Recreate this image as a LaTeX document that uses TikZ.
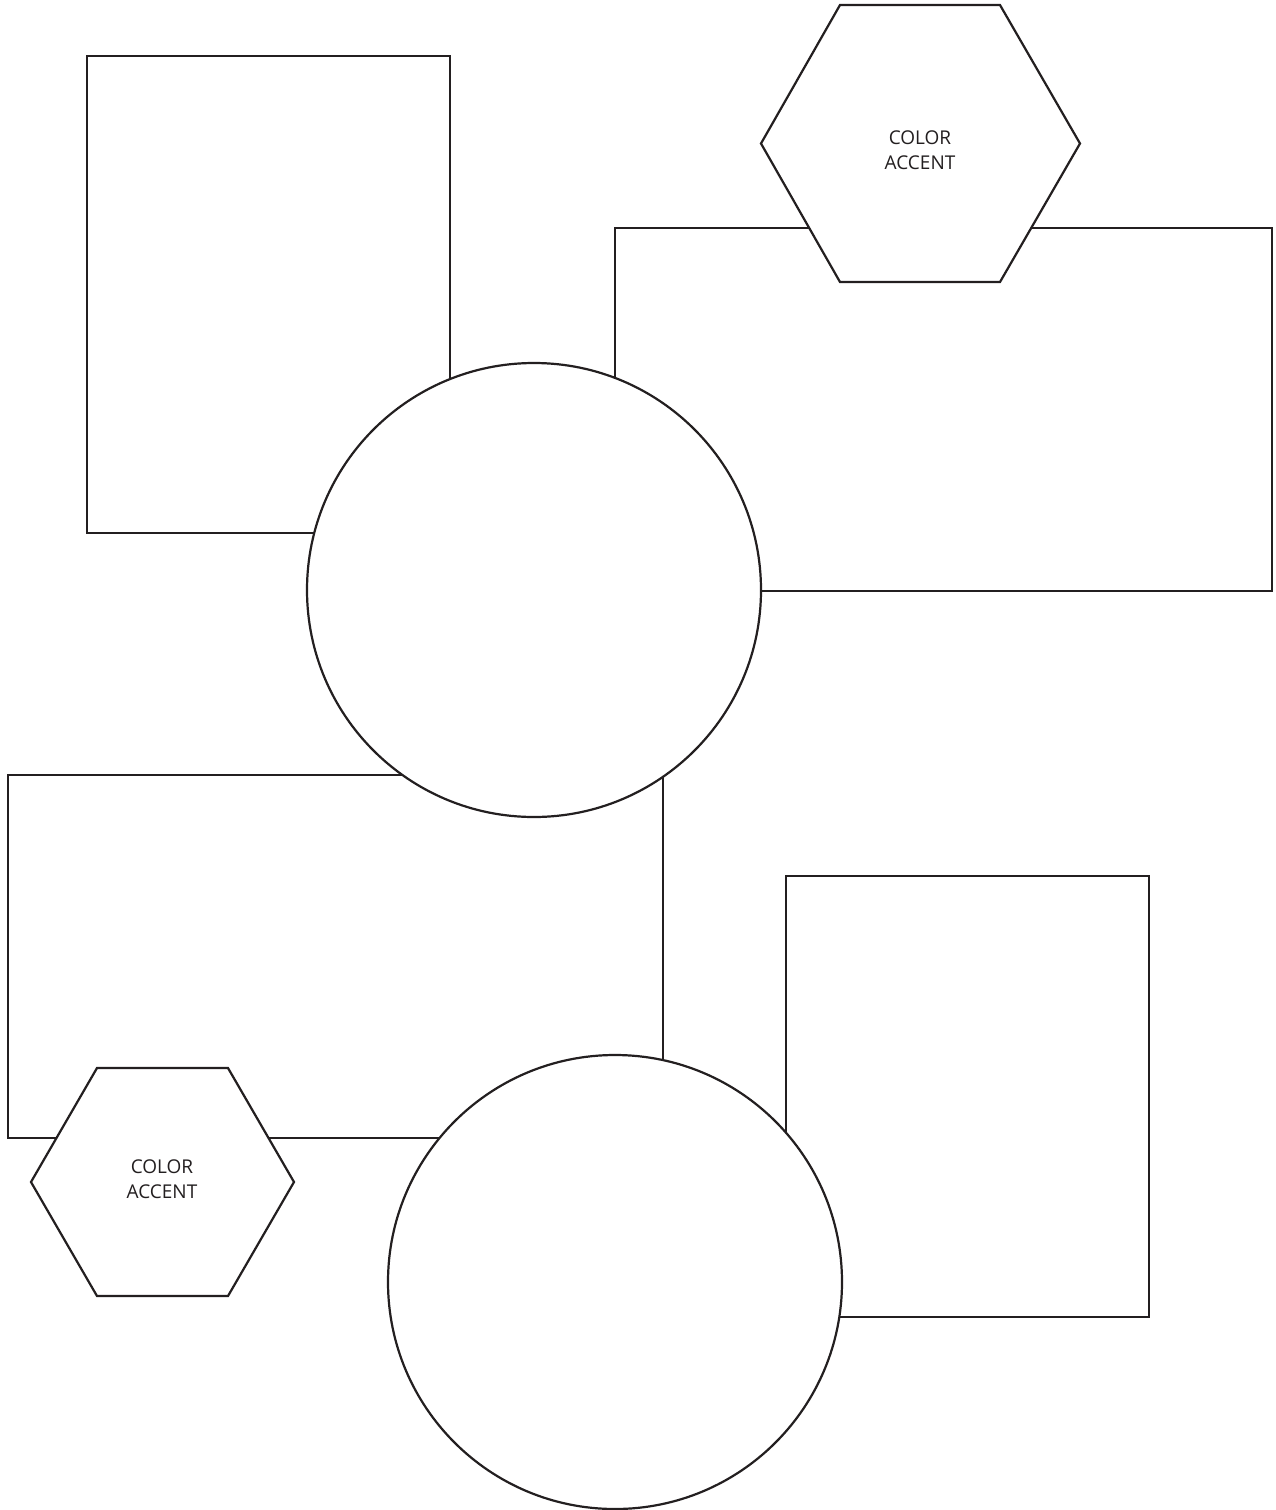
\documentclass[tikz,border=0pt]{standalone}
\usepackage{fontspec}
\setmainfont{Open Sans}
\definecolor{ink}{HTML}{231F20}
\begin{document}
\begin{tikzpicture}[x=1pt,y=-1pt,
  shp/.style={draw=ink,line width=2.2pt,line join=miter},
  blank/.style={shp,fill=white},
  lbl/.style={font=\fontsize{19}{25}\selectfont,text=ink,align=center,inner sep=0pt}]
\useasboundingbox[fill=white] (0,0) rectangle (1276,1510);
% rectangles
\draw[shp] (87,56) rectangle (450,533);
\draw[shp] (615,228) rectangle (1272,591);
\draw[shp] (8,775) rectangle (663,1138);
\draw[shp] (786,876) rectangle (1149,1317);
% circles
\draw[blank] (534,590) circle[radius=227];
\draw[blank] (615,1282) circle[radius=227];
% hexagons
\draw[blank] (761,143.5) -- (840,5) -- (1000,5) -- (1080,143.5) -- (1000,282) -- (840,282) -- cycle;
\draw[blank] (31,1182) -- (97,1068) -- (228,1068) -- (294,1182) -- (228,1296) -- (97,1296) -- cycle;
\node[lbl] (accA) at (920,150) {COLOR\\ACCENT};
\node[lbl] (accB) at (162,1179) {COLOR\\ACCENT};
\end{tikzpicture}
\end{document}
